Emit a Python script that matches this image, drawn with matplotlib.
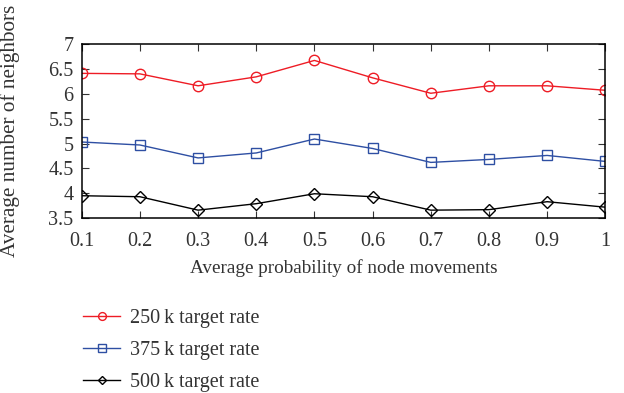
import matplotlib
matplotlib.use("Agg")
import matplotlib.pyplot as plt

x = [0.1, 0.2, 0.3, 0.4, 0.5, 0.6, 0.7, 0.8, 0.9, 1.0]
rate_250k = [6.41, 6.40, 6.16, 6.34, 6.67, 6.32, 6.01, 6.16, 6.16, 6.07]
rate_375k = [5.03, 4.97, 4.71, 4.81, 5.09, 4.90, 4.62, 4.68, 4.76, 4.64]
rate_500k = [3.95, 3.93, 3.66, 3.79, 3.99, 3.93, 3.66, 3.67, 3.83, 3.72]
labels = ["250\u2009k target rate", "375\u2009k target rate", "500\u2009k target rate"]
xticks = [0.1, 0.2, 0.3, 0.4, 0.5, 0.6, 0.7, 0.8, 0.9, 1]
xticklabels = ["0.1", "0.2", "0.3", "0.4", "0.5", "0.6", "0.7", "0.8", "0.9", "1"]
yticks = [3.5, 4, 4.5, 5, 5.5, 6, 6.5, 7]
yticklabels = ["3.5", "4", "4.5", "5", "5.5", "6", "6.5", "7"]

plt.rcParams['font.family'] = ['Liberation Serif', 'DejaVu Serif']

fig = plt.figure(figsize=(6.24, 3.93), dpi=100)
ax = fig.add_axes([0.131, 0.445, 0.839, 0.443])

ax.plot(x, rate_250k, color='#ee1c25', marker='o', markersize=7.5, markerfacecolor='none', lw=1.0, label=labels[0])
ax.plot(x, rate_375k, color='#2e4fa3', marker='s', markersize=7, markerfacecolor='none', lw=1.0, label=labels[1])
ax.plot(x, rate_500k, color='black', marker='D', markersize=6, markerfacecolor='none', lw=1.0, label=labels[2])

ax.set_xlim(0.1, 1.0)
ax.set_ylim(3.5, 7)
ax.set_xticks(xticks)
ax.set_xticklabels(xticklabels)
ax.set_yticks(yticks)
ax.set_yticklabels(yticklabels)
ax.tick_params(direction='in', top=True, right=True, length=5, labelsize=14.5, colors='#333333')
ax.tick_params(axis='x', pad=10)
ax.tick_params(axis='y', pad=6)
for s in ax.spines.values():
    s.set_linewidth(1.1)

ax.set_xlabel("Average probability of node movements", fontsize=13.8, labelpad=6, color='#333333')
ax.set_ylabel("Average number of neighbors", fontsize=15.3, color='#333333')
ax.yaxis.set_label_coords(-0.1185, 0.5)

handles, lbls = ax.get_legend_handles_labels()
leg = fig.legend(handles, lbls, loc='upper left', bbox_to_anchor=(0.133, 0.215), frameon=False,
                 borderpad=0, borderaxespad=0,
                 fontsize=14.5, handlelength=1.85, labelspacing=0.65, handletextpad=0.5, markerscale=0.75)
for t in leg.get_texts():
    t.set_color('#333333')

fig.savefig("out.png", dpi=100)
